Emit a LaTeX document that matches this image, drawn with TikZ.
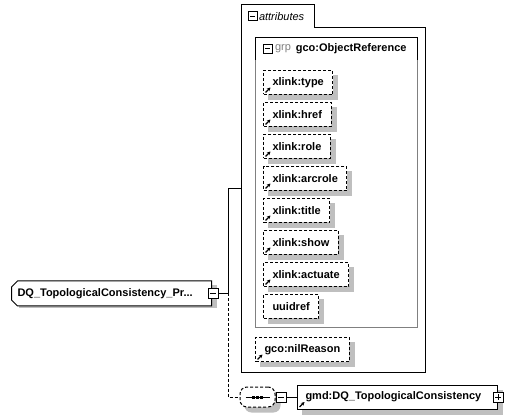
\documentclass[tikz,border=0pt]{standalone}
\usepackage{fontspec}
\setmainfont{Liberation Sans}
\usetikzlibrary{positioning,shapes.misc,arrows.meta,backgrounds}

\tikzset{
	txt/.style={font=\fontsize{11pt}{13pt}\selectfont},
	shadowfill/.style={fill=black!25, draw=none},
	refmark/.style={path picture={\draw[solid, line width=1.2pt, -{Stealth[length=3.5pt, width=3.5pt]}]
		([shift={(2pt,2pt)}]path picture bounding box.south west) -- ++(5pt,5pt);}},
	noref/.style={},
	attrbox/.style={txt, draw, dash pattern=on 3pt off 2pt, fill=white, font=\fontsize{11pt}{13pt}\selectfont\bfseries,
		minimum height=24pt, inner xsep=9pt, inner ysep=0pt, anchor=north west},
	elembox/.style={txt, draw, fill=white, font=\fontsize{11pt}{13pt}\selectfont\bfseries, align=left,
		minimum height=24pt, inner ysep=0pt},
	minusbox/.style={draw, fill=white, minimum size=10pt, inner sep=0pt,
		path picture={\draw[solid] ([xshift=2pt]path picture bounding box.west) -- ([xshift=-2pt]path picture bounding box.east);}},
	plusbox/.style={minusbox, path picture={\draw ([xshift=2pt]path picture bounding box.west) -- ([xshift=-2pt]path picture bounding box.east);
		\draw ([yshift=-2pt]path picture bounding box.north) -- ([yshift=2pt]path picture bounding box.south);}},
	seqbox/.style={draw, dash pattern=on 3pt off 2pt, fill=white, rounded corners=7pt, minimum width=35pt, minimum height=20pt}
}

\begin{document}
\begin{tikzpicture}[x=1pt, y=-1pt, line width=1pt]
		%%%%% START %%%%%
		\useasboundingbox (0,0) rectangle (511,419);
		
		% attributes
		\draw (241,372) -- (241,5) -- (314,5) -- (314,28) -- (425,28) -- (425,372) -- cycle;
		\node[minusbox, minimum size=9pt] (attrminus) at (252.5,16.5) {};
		\node[txt, anchor=west, inner xsep=1pt, font=\fontsize{11pt}{13pt}\selectfont\itshape] (attrlabel) at (attrminus.east) {attributes};
		
		% group
		\draw[black!50] (255,38) rectangle (417,328);
		\draw (255,60) |- (417,38) -- (417,60);
		\node[minusbox, minimum size=9pt] (grpminus) at (267.5,49) {};
		\node[txt, anchor=west, inner xsep=2pt, text=black!50] (grptag) at (grpminus.east) {grp};
		\node[txt, anchor=west, inner xsep=2pt, font=\fontsize{11pt}{13pt}\selectfont\bfseries] (grplabel) at (grptag.east) {gco:ObjectReference};
		
		\foreach \name/\mark [count=\i] in {xlink:type/refmark, xlink:href/refmark, xlink:role/refmark, xlink:arcrole/refmark,
			xlink:title/refmark, xlink:show/refmark, xlink:actuate/refmark, uuidref/noref}
			\node[attrbox, \mark] (attr\i) at (263,{70+32*(\i-1)}) {\name};
		
		\node[attrbox, refmark] (nilreason) at (255,337) {gco:nilReason};
		
		% element
		\node[elembox, chamfered rectangle, chamfered rectangle corners={north west,south west},
			chamfered rectangle xsep=3pt, chamfered rectangle ysep=3pt,
			minimum height=25pt, text width=188pt, inner xsep=3pt, anchor=west] (main) at (11,293.5) {DQ\_TopologicalConsistency\_Pr...};
		\node[minusbox] (mainminus) at (213,293.5) {};
		
		% sequence
		\node[seqbox] (seq) at (257.5,397) {};
		\draw ([xshift=6pt]seq.west) -- ([xshift=-6pt]seq.east);
		\foreach \dx in {-4,0,4}
			\fill ([shift={(\dx pt-1.5pt,-1.5pt)}]seq.center) rectangle ++(3pt,3pt);
		\node[minusbox, anchor=west] (seqminus) at (seq.east) {};
		\node[elembox, refmark, anchor=west, minimum width=200pt, text width=184pt, inner xsep=8pt] (gmd) at (297,397) {gmd:DQ\_TopologicalConsistency};
		\node[plusbox] (gmdplus) at (gmd.east) {};
		
		% shadows
		\begin{scope}[on background layer]
			\foreach \n in {attr1,attr2,attr3,attr4,attr5,attr6,attr7,attr8,nilreason,main,gmd}
				\fill[shadowfill] ([shift={(5pt,-5pt)}]\n.south west) rectangle ([shift={(5pt,-5pt)}]\n.north east);
			\fill[shadowfill, rounded corners=7pt] ([shift={(5pt,-5pt)}]seq.south west) rectangle ([shift={(5pt,-5pt)}]seq.north east);
		\end{scope}
		
		% connectors
		\coordinate (fork) at (228,293.5);
		\coordinate (attrsin) at (241,189);
		\draw (mainminus.east) -- (fork) |- (attrsin);
		\draw[dash pattern=on 3pt off 2pt] (fork) |- (seq.west);
		\draw (seqminus.east) -- (gmd.west);
		
		%%%%% END %%%%%
	\end{tikzpicture}
\end{document}
